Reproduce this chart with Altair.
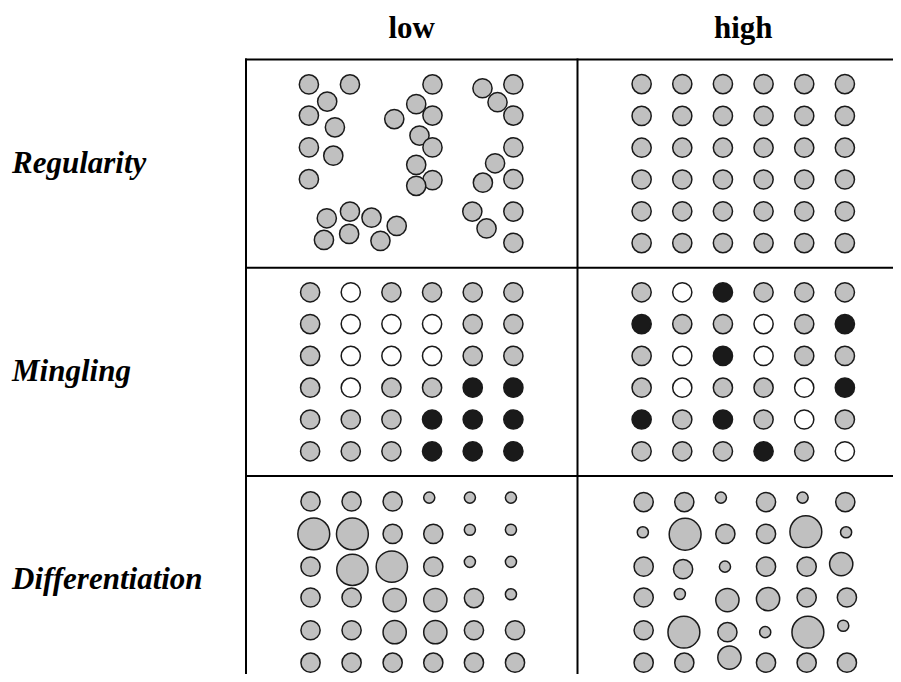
import altair as alt
import pandas as pd

# ---------------- data ----------------
ROW_LABELS = ["Regularity", "Mingling", "Differentiation"]
COL_LABELS = ["low", "high"]

# irregular pattern (low regularity), positions in grid steps from panel centre
REG_LOW_DU = [-2.53, -1.52, 0.51, 1.74, 2.50,
              -2.08, 0.11, 2.11,
              -2.53, -0.43, 0.51, 2.50,
              -1.89, 0.19,
              -2.53, -1.93, 0.51, 2.50,
              2.05,
              -2.53, 0.11, 0.51, 0.11, 1.75, 2.50,
              -2.09, -1.52, -0.99, -0.37, 1.49, 2.50,
              -2.16, -1.54, -0.77, 1.84, 2.50]
REG_LOW_DV = [-2.49, -2.49, -2.49, -2.37, -2.49,
              -1.95, -1.87, -1.93,
              -1.51, -1.40, -1.51, -1.51,
              -1.14, -0.88,
              -0.51, -0.25, -0.51, -0.51,
              -0.01,
              0.49, 0.04, 0.52, 0.70, 0.60, 0.49,
              1.72, 1.51, 1.70, 1.96, 1.51, 1.51,
              2.40, 2.21, 2.43, 2.04, 2.49]

# species codes: G = grey, W = white, B = black
MINGLING_LOW = ["GWGGGG", "GWWWGG", "GWWWGG", "GWGGBB", "GGGBBB", "GGGBBB"]
MINGLING_HIGH = ["GWBGGG", "BGGWGB", "GWBWGG", "GWGGWB", "BGBGWG", "GGGBGW"]

# relative stem diameters (1 = normal)
DIFF_LOW_SIZE = [[1, 1, 1, 0.58, 0.58, 0.58],
                 [1.66, 1.66, 1, 1, 0.58, 0.58],
                 [1, 1.63, 1.63, 1, 0.58, 0.58],
                 [1, 1, 1.21, 1.21, 1, 0.58],
                 [1, 1, 1.21, 1.21, 1, 1],
                 [1, 1, 1, 1, 1, 1]]
DIFF_LOW_DU = [[-2.49, -1.48, -0.47, 0.43, 1.43, 2.44],
               [-2.41, -1.46, -0.47, 0.53, 1.43, 2.44],
               [-2.49, -1.46, -0.49, 0.53, 1.43, 2.44],
               [-2.49, -1.48, -0.42, 0.58, 1.53, 2.44],
               [-2.49, -1.48, -0.42, 0.58, 1.53, 2.54],
               [-2.49, -1.48, -0.47, 0.53, 1.53, 2.54]]
DIFF_LOW_DV = [[-2.47, -2.47, -2.47, -2.59, -2.59, -2.59],
               [-1.45, -1.45, -1.45, -1.45, -1.58, -1.58],
               [-0.42, -0.32, -0.42, -0.42, -0.57, -0.57],
               [0.55, 0.55, 0.63, 0.63, 0.57, 0.45],
               [1.58, 1.58, 1.64, 1.64, 1.58, 1.58],
               [2.60, 2.60, 2.60, 2.60, 2.60, 2.60]]

DIFF_HIGH_SIZE = [[1, 1, 0.58, 1, 0.58, 1],
                  [0.58, 1.66, 1, 1, 1.66, 0.58],
                  [1, 1, 0.58, 1, 1, 1.21],
                  [1, 0.58, 1.21, 1.21, 1, 1],
                  [1, 1.66, 1, 0.58, 1.66, 0.58],
                  [1, 1, 1.21, 1, 1, 1]]
DIFF_HIGH_DU = [[-2.45, -1.45, -0.55, 0.56, 1.46, 2.51],
                [-2.47, -1.43, -0.44, 0.56, 1.54, 2.53],
                [-2.45, -1.48, -0.45, 0.56, 1.56, 2.41],
                [-2.45, -1.56, -0.39, 0.61, 1.56, 2.55],
                [-2.45, -1.46, -0.39, 0.54, 1.59, 2.46],
                [-2.45, -1.45, -0.34, 0.56, 1.56, 2.55]]
DIFF_HIGH_DV = [[-2.45, -2.45, -2.59, -2.45, -2.59, -2.45],
                [-1.50, -1.44, -1.45, -1.45, -1.52, -1.50],
                [-0.42, -0.34, -0.42, -0.42, -0.42, -0.50],
                [0.55, 0.44, 0.63, 0.60, 0.55, 0.55],
                [1.58, 1.64, 1.64, 1.64, 1.64, 1.44],
                [2.60, 2.60, 2.44, 2.60, 2.60, 2.60]]

# ---------------- layout (grid-step units) ----------------
PW = 8.155   # panel width in horizontal grid steps
PH = 6.547   # panel height in vertical grid steps
X_STEP = 40.65
Y_STEP = 31.8
W, H = 885, 666
TABLE_LEFT = 238.0
TABLE_TOP = 51.5

xs = alt.Scale(domain=[-TABLE_LEFT / X_STEP, (W - TABLE_LEFT) / X_STEP], nice=False, zero=False)
ys = alt.Scale(domain=[-TABLE_TOP / Y_STEP, (H - TABLE_TOP) / Y_STEP], nice=False, zero=False, reverse=True)

# ---------------- build circle table ----------------
recs = []
def add(row, col, du, dv, kind, d):
    recs.append({"row": row, "col": col, "du": du, "dv": dv, "kind": kind, "d": d, "i": len(recs)})

for du, dv in zip(REG_LOW_DU, REG_LOW_DV):
    add(0, 0, du, dv, "G", 1)
for r in range(6):
    for c in range(6):
        add(0, 1, c - 2.5, r - 2.5, "G", 1)
for r in range(6):
    for c in range(6):
        add(1, 0, c - 2.5, r - 2.5, MINGLING_LOW[r][c], 1)
        add(1, 1, c - 2.5, r - 2.5, MINGLING_HIGH[r][c], 1)
for r in range(6):
    for c in range(6):
        add(2, 0, DIFF_LOW_DU[r][c], DIFF_LOW_DV[r][c], "G", DIFF_LOW_SIZE[r][c])
        add(2, 1, DIFF_HIGH_DU[r][c], DIFF_HIGH_DV[r][c], "G", DIFF_HIGH_SIZE[r][c])

cdf = pd.DataFrame(recs)

circles = alt.Chart(cdf).transform_calculate(
    X=f"(datum.col + 0.5) * {PW} + datum.du",
    Y=f"(datum.row + 0.5) * {PH} + datum.dv",
).mark_circle(opacity=1, stroke="#1a1a1a", strokeWidth=1.5).encode(
    x=alt.X("X:Q", scale=xs, axis=None),
    y=alt.Y("Y:Q", scale=ys, axis=None),
    fill=alt.Fill("kind:N", scale=alt.Scale(domain=["G", "W", "B"],
                                            range=["#c0c0c0", "#ffffff", "#1a1a1a"]), legend=None),
    size=alt.Size("d:Q", scale=alt.Scale(type="pow", exponent=2, domain=[0, 2], range=[0, 1475]),
                  legend=None),
    order=alt.Order("i:Q"),
)

# table lines
hl = pd.DataFrame({"Y": [0, PH, 2 * PH], "X": [0, 0, 0], "X2": [2 * PW] * 3})
vl = pd.DataFrame({"X": [0, PW], "Y": [0, 0], "Y2": [3 * PH, 3 * PH]})
rule_h = alt.Chart(hl).mark_rule(color="black", strokeWidth=2, clip=True, strokeCap="square").encode(
    x=alt.X("X:Q", scale=xs, axis=None), x2="X2:Q", y=alt.Y("Y:Q", scale=ys, axis=None))
rule_v = alt.Chart(vl).mark_rule(color="black", strokeWidth=2, clip=True, strokeCap="square").encode(
    x=alt.X("X:Q", scale=xs, axis=None), y=alt.Y("Y:Q", scale=ys, axis=None), y2="Y2:Q")

# labels
rdf = pd.DataFrame({"label": ROW_LABELS, "r": [0, 1, 2]})
row_txt = alt.Chart(rdf).transform_calculate(
    X=f"{-234 / X_STEP}", Y=f"(datum.r + 0.5) * {PH}"
).mark_text(font="Liberation Serif", fontSize=31, fontWeight="bold", fontStyle="italic",
            align="left", baseline="middle", color="black").encode(
    x=alt.X("X:Q", scale=xs, axis=None), y=alt.Y("Y:Q", scale=ys, axis=None), text="label:N")

hdf = pd.DataFrame({"label": COL_LABELS, "c": [0, 1]})
col_txt = alt.Chart(hdf).transform_calculate(
    X=f"(datum.c + 0.5) * {PW}", Y=f"{-21.5 / Y_STEP}"
).mark_text(font="Liberation Serif", fontSize=31, fontWeight="bold",
            align="center", baseline="alphabetic", color="black").encode(
    x=alt.X("X:Q", scale=xs, axis=None), y=alt.Y("Y:Q", scale=ys, axis=None), text="label:N")

chart = alt.layer(rule_h, rule_v, circles, row_txt, col_txt).properties(
    width=W, height=H, padding=0, autosize="none", background="white"
).configure_view(stroke=None)

chart.save("out.html", embed_options={"renderer": "svg", "actions": False})
